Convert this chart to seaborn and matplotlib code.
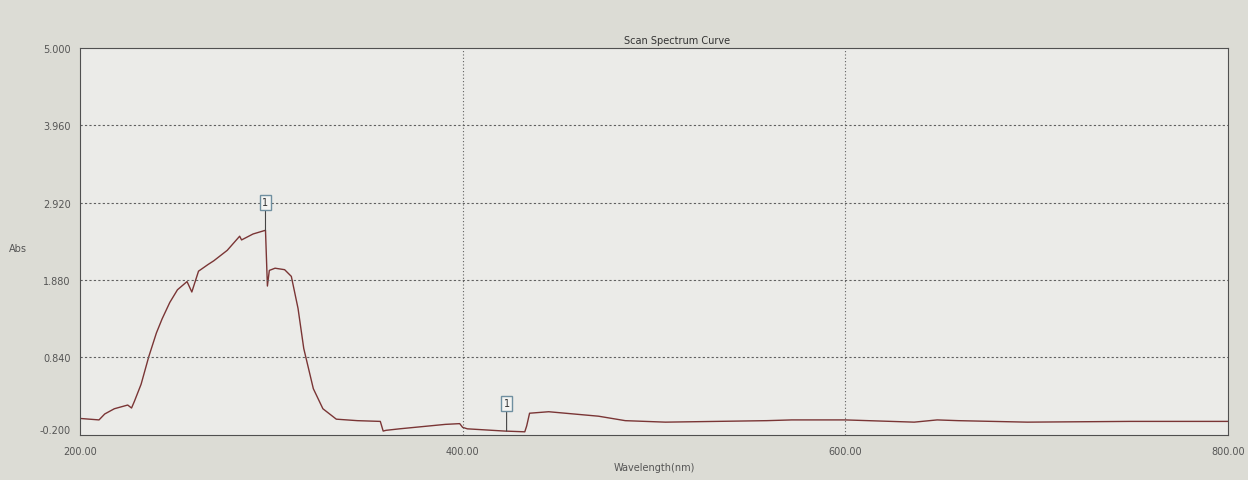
import numpy as np
import pandas as pd
import matplotlib
matplotlib.use("Agg")
import matplotlib.pyplot as plt
import seaborn as sns

# values
wavelength = [200, 210, 213, 218, 225, 227, 228.5, 232, 236, 240, 243, 247, 251, 256, 258.5,
              262, 267, 270, 277, 283.5, 284.5, 290.5, 297, 298, 299, 302, 307, 310.5,
              314, 317, 322, 327, 334, 345, 357, 358.5, 360, 367, 391, 398.5, 400, 402.5,
              422, 432.5, 433.5, 435, 445, 471, 485, 506, 559, 572, 600, 636, 648, 659,
              695, 749, 800]
absorbance = [0.02, 0.0, 0.08, 0.15, 0.2, 0.16, 0.25, 0.48, 0.85, 1.17, 1.36, 1.58, 1.75, 1.86, 1.72,
              2.0, 2.09, 2.14, 2.28, 2.47, 2.42, 2.5, 2.55, 1.8, 2.01, 2.04, 2.02, 1.93,
              1.5, 0.96, 0.42, 0.15, 0.01, -0.01, -0.02, -0.15, -0.14, -0.12, -0.06, -0.05,
              -0.1, -0.12, -0.15, -0.16, -0.08, 0.09, 0.11, 0.05, -0.01, -0.03, -0.01, 0.0,
              0.0, -0.03, 0.0, -0.01, -0.03, -0.02, -0.02]
y_ticks = [-0.2, 0.84, 1.88, 2.92, 3.96, 5.0]
x_ticks = [200, 400, 600, 800]
peaks = [(297, 2.55), (423, -0.15)]

df = pd.DataFrame({"wl": wavelength, "abs": absorbance})

sns.set_style("white", {"axes.facecolor": "#ebebe8", "figure.facecolor": "#dcdcd5",
                        "axes.edgecolor": "#505050"})
plt.rcParams["font.family"] = ["DejaVu Sans"]

fig, ax = plt.subplots(figsize=(12.48, 4.81), dpi=100)
fig.subplots_adjust(left=0.064, right=0.984, bottom=0.094, top=0.898)

sns.lineplot(data=df, x="wl", y="abs", ax=ax, color="#7a3535", linewidth=1.0,
             estimator=None, sort=False)

ax.set_xlim(200, 800)
ax.set_ylim(-0.2, 5.0)
ax.set_xticks(x_ticks)
ax.set_xticklabels([f"{v:.2f}" for v in x_ticks])
ax.set_yticks(y_ticks)
ax.set_yticklabels([f"{v:.3f}" for v in y_ticks])
ax.tick_params(labelsize=7, colors="#555555", length=3)
ax.tick_params(axis="x", pad=5)
lbl = ax.get_yticklabels()[0]
lbl.set_verticalalignment("bottom")

for v in y_ticks[1:-1]:
    ax.axhline(v, color="#606060", linewidth=0.8, linestyle=(0, (2, 2)))
for v in x_ticks[1:-1]:
    ax.axvline(v, color="#606060", linewidth=0.8, linestyle=(0, (1, 2)))

for x, y in peaks:
    ax.annotate("1", xy=(x, y), xytext=(0, 20), textcoords="offset points",
                ha="center", va="center", fontsize=7, color="#333333",
                bbox=dict(boxstyle="square,pad=0.25", fc="#f4f4f2", ec="#6f8fa0", lw=1),
                arrowprops=dict(arrowstyle="-", color="#444444", lw=0.8,
                                shrinkA=0, shrinkB=0))

ax.set_title("Scan Spectrum Curve", fontsize=7, color="#333333", pad=4, x=0.52)
ax.set_xlabel("Wavelength(nm)", fontsize=7, color="#555555")
ax.set_ylabel("Abs", fontsize=7, color="#555555", rotation=0)
ax.yaxis.set_label_coords(-0.054, 0.47)
ax.xaxis.set_label_coords(0.5, -0.07)

fig.savefig("out.png", dpi=100, facecolor=fig.get_facecolor())
